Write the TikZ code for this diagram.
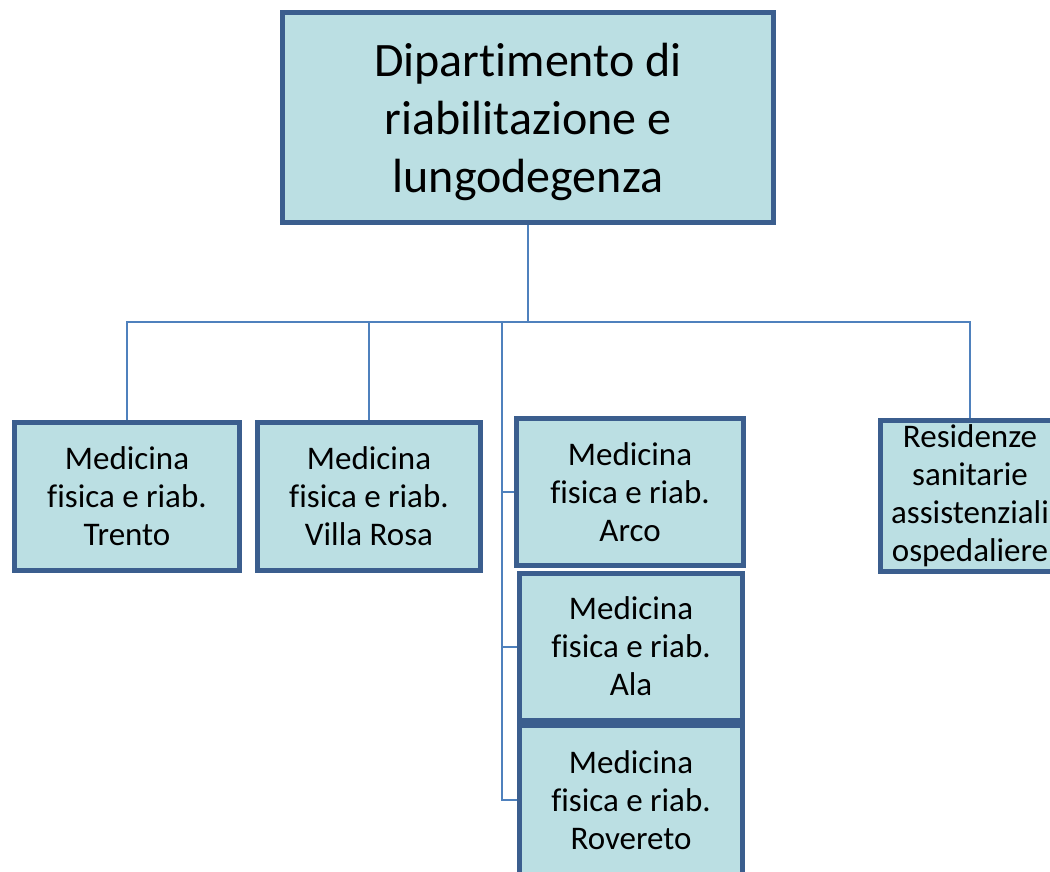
\documentclass[tikz,border=0pt]{standalone}
\usepackage{fontspec}
\setmainfont[Ligatures={NoCommon}]{Carlito}
\pgfdeclarelayer{background}
\pgfsetlayers{background,main}
\definecolor{boxfill}{RGB}{187,223,227}
\definecolor{boxline}{RGB}{59,94,142}
\definecolor{conn}{RGB}{79,129,189}
\tikzset{
  unit/.style={draw=boxline, fill=boxfill, line width=5pt, align=center, inner sep=0pt,
    font=\fontsize{33}{38}\selectfont},
  bigunit/.style={unit, font=\fontsize{48}{58}\selectfont},
  link/.style={draw=conn, line width=2pt}
}
\begin{document}
\begin{tikzpicture}[x=1pt,y=-1pt]
\useasboundingbox (0,0) rectangle (1050,872);
\clip (0,0) rectangle (1050,872);
\node[bigunit, minimum width=491pt, minimum height=210pt, text depth=0pt] (top) at (528,117.5) {Dipartimento di\\riabilitazione e\\lungodegenza};
\node[unit, minimum width=225pt, minimum height=148pt] (trento) at (127,496.5) {Medicina\\fisica e riab.\\Trento};
\node[unit, minimum width=223pt, minimum height=148pt] (villa) at (369,496.5) {Medicina\\fisica e riab.\\Villa Rosa};
\node[unit, minimum width=227pt, minimum height=147pt] (arco) at (630,492) {Medicina\\fisica e riab.\\Arco};
\node[unit, minimum width=223pt, minimum height=147pt] (ala) at (631,646.5) {Medicina\\fisica e riab.\\Ala};
\node[unit, minimum width=223pt, minimum height=149pt] (rov) at (631,800) {Medicina\\fisica e riab.\\Rovereto};
\node[unit, minimum width=179pt, minimum height=151pt] (rsa) at (970,496) {Residenze\\sanitarie\\assistenziali\\ospedaliere};
\begin{pgfonlayer}{background}
\coordinate (j) at (528,322);
\coordinate (k) at (502,321);
\draw[link] (top.south) -- (j) -| (trento.north);
\draw[link] (j) -| (villa.north);
\draw[link] (j) -| (rsa.north);
\draw[link] (k) |- (arco.west);
\draw[link] (k) |- (ala.west);
\draw[link] (k) |- (rov.west);
\end{pgfonlayer}
\end{tikzpicture}
\end{document}
